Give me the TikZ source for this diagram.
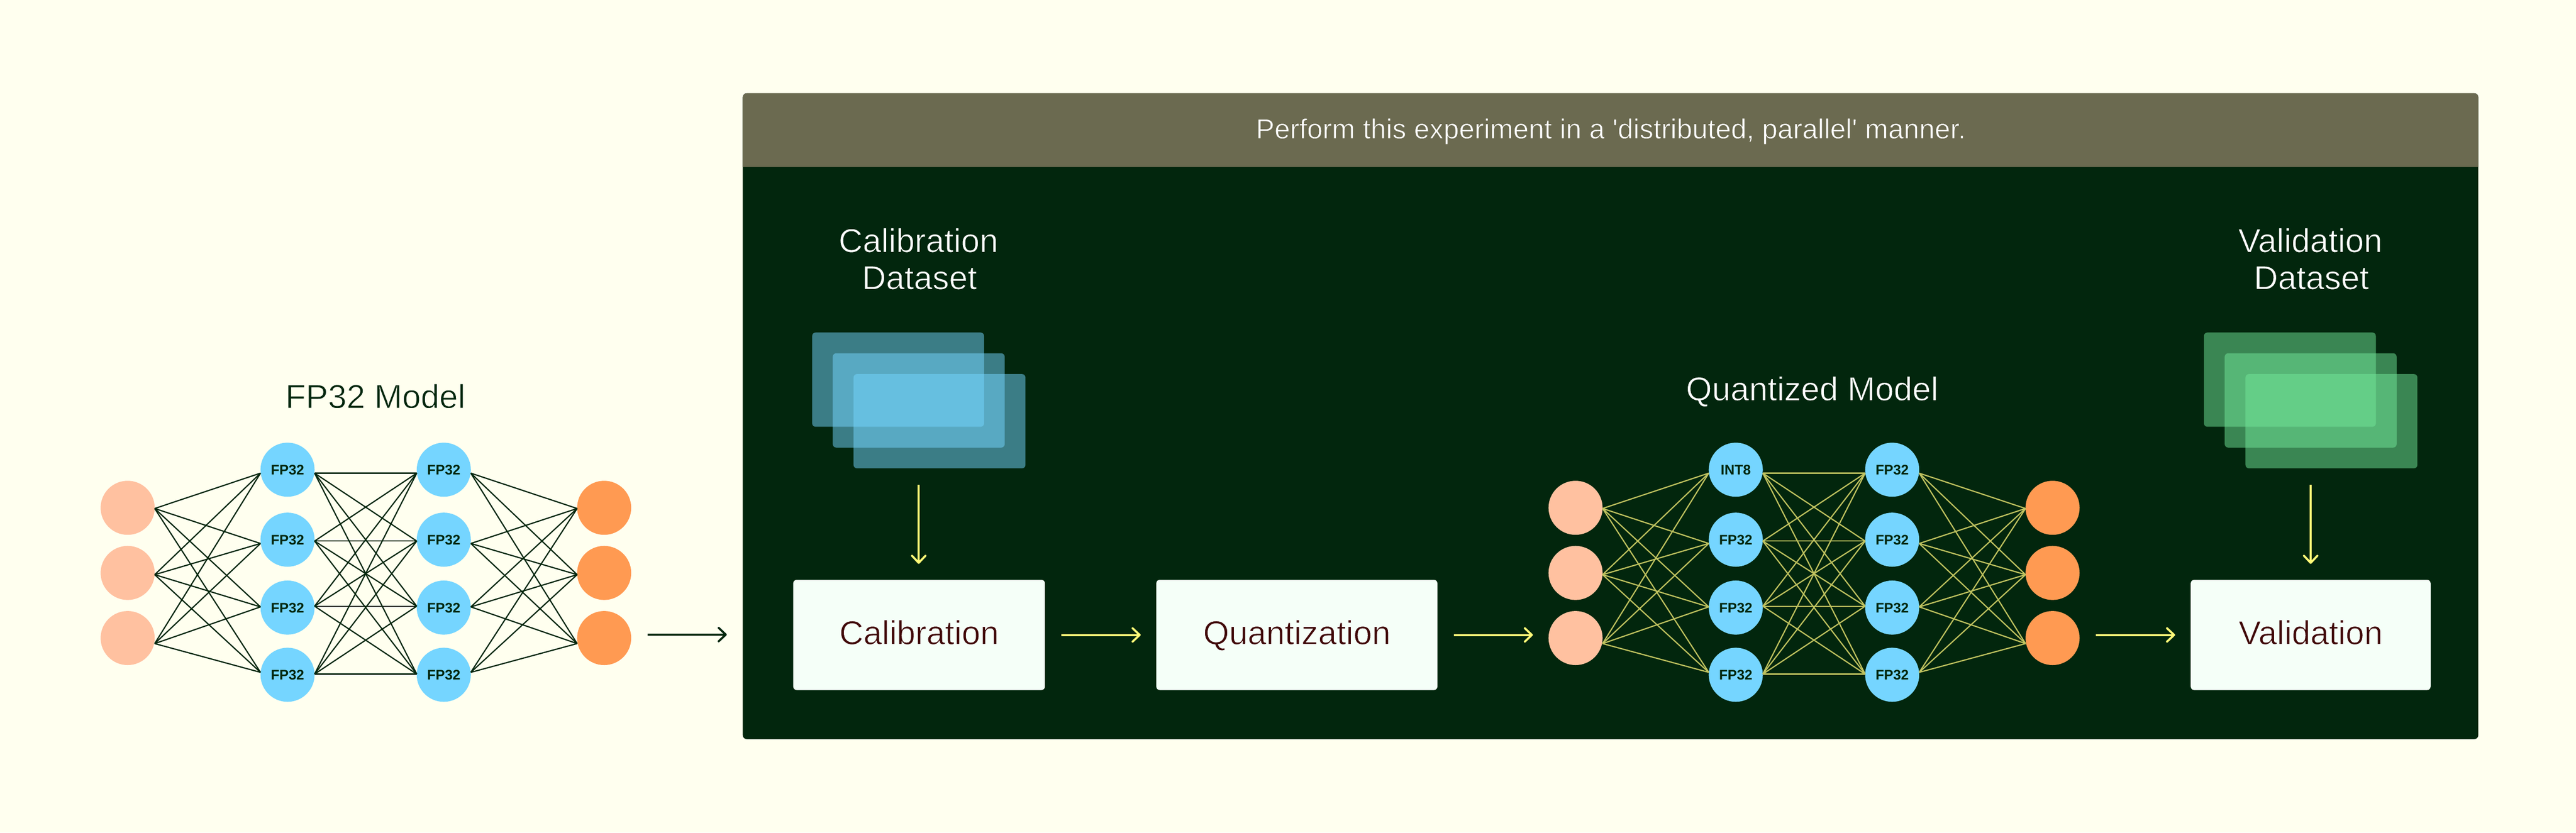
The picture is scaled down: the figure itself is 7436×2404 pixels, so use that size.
\documentclass[tikz,border=0pt]{standalone}
\usepackage{fontspec}
\setmainfont{Liberation Sans}[Ligatures=NoCommon]
\newfontfamily\boldlab{Liberation Sans Bold}
\usetikzlibrary{arrows.meta,calc}
\definecolor{bgc}{HTML}{FFFFEF}
\definecolor{panelc}{HTML}{02260D}
\definecolor{headc}{HTML}{6B6A50}
\definecolor{bluec}{HTML}{75D5FF}
\definecolor{peachc}{HTML}{FFC1A0}
\definecolor{orangec}{HTML}{FF9A52}
\definecolor{boxc}{HTML}{F5FFF8}
\definecolor{maroonc}{HTML}{400808}
\definecolor{yelc}{HTML}{FFFA78}
\definecolor{netyc}{HTML}{BFC25F}
\definecolor{greenc}{HTML}{73E699}
\newcommand{\lfont}{\fontsize{27.4}{30.7}\selectfont}
% real text, with its strokes thinned by an outline in the colour behind it
\newcommand{\lighttext}[2]{\special{pdf:code 2 Tr 0.4 w #1 RG}#2\special{pdf:code 0 Tr}}
\newcommand{\onpanel}[1]{\lighttext{0.008 0.149 0.051}{#1}}
\newcommand{\onbg}[1]{\lighttext{1 1 0.937}{#1}}
\newcommand{\onbox}[1]{\lighttext{0.961 1 0.973}{#1}}
\newcommand{\onhead}[1]{\lighttext{0.42 0.416 0.314}{#1}}
\tikzset{
  x=0.01cm,y=-0.01cm,
  neuron/.style={circle,minimum size=1.56cm,inner sep=0pt,outer sep=0pt,text=panelc,font=\boldlab\fontsize{11.4}{12}\selectfont,text height=0.30cm,text depth=0cm},
  nin/.style={neuron,fill=peachc},
  nhid/.style={neuron,fill=bluec},
  nout/.style={neuron,fill=orangec},
  netd/.style={draw=panelc,line width=1pt},
  nety/.style={draw=netyc,line width=1pt},
  arr/.style={line width=1.7pt,-{Straight Barb[length=5.8pt,width=11pt,round]}},
  arrd/.style={arr,draw=panelc},
  arry/.style={arr,draw=yelc},
  stackb/.style={rectangle,rounded corners=0.1cm,inner sep=0pt,outer sep=0pt,minimum width=4.96cm,minimum height=2.72cm,fill=bluec,fill opacity=0.5},
  stackg/.style={stackb,fill=greenc},
  box/.style={rectangle,rounded corners=0.1cm,inner sep=0pt,outer sep=0pt,minimum height=3.18cm,fill=boxc,text=maroonc,font=\lfont,text height=0.72cm,text depth=0.18cm},
  title/.style={inner sep=0pt,font=\lfont,align=center,anchor=base},
}
\begin{document}
\begin{tikzpicture}
\useasboundingbox (0,0) rectangle (7436,2404);
\fill[bgc] (0,0) rectangle (7436,2404);
% panel
\fill[panelc,rounded corners=0.12cm] (2144,269) rectangle (7154,2134);
\fill[headc] (2144,482) [rounded corners=0.12cm] -- (2144,269) -- (7154,269) [sharp corners] -- (7154,482) -- cycle;
\coordinate (pleft) at (2144,1832);
\node[inner sep=0pt,anchor=base,text=white,font=\fontsize{22.9}{25}\selectfont] (htext) at (4650,400) {\onhead{Perform this experiment in a \textquotesingle distributed, parallel\textquotesingle{} manner.}};
% titles
\node[title,text=panelc] (t1) at (1083.5,1178) {\onbg{FP32 Model}};
\node[title,text=white] (t2) at (5231,1156) {\onpanel{Quantized Model}};
\node[title,text=white] (t3a) at (2651,728) {\onpanel{Calibration}};
\node[title,text=white] (t3b) at (2654,835) {\onpanel{Dataset}};
\node[title,text=white] (t4a) at (6669,728) {\onpanel{Validation}};
\node[title,text=white] (t4b) at (6672,835) {\onpanel{Dataset}};
% stacks
\node[stackb] (c1) at (2592.5,1096) {};
\node[stackb] (c2) at (2652,1156) {};
\node[stackb] (c3) at (2712,1216) {};
\node[stackg] (v1) at (6610,1096) {};
\node[stackg] (v2) at (6670,1156) {};
\node[stackg] (v3) at (6730,1216) {};
% boxes
\node[box,minimum width=7.26cm] (calib) at (2653,1833) {\onbox{Calibration}};
\node[box,minimum width=8.11cm] (quant) at (3743.5,1833) {\onbox{Quantization}};
\node[box,minimum width=6.92cm] (valid) at (6670,1833) {\onbox{Validation}};
% network nodes
\foreach \n/\y in {1/1466,2/1654,3/1842}{
  \node[nin] (ai\n) at (368.5,\y) {};
  \node[nout] (ao\n) at (1744,\y) {};
  \node[nin] (bi\n) at (4548,\y) {};
  \node[nout] (bo\n) at (5925,\y) {};
}
\foreach \n/\y in {1/1356,2/1558,3/1754,4/1948}{
  \node[nhid] (ah\n) at (830,\y) {FP32};
  \node[nhid] (ak\n) at (1281,\y) {FP32};
  \node[nhid] (bk\n) at (5462,\y) {FP32};
}
\node[nhid] (bh1) at (5010.5,1356) {INT8};
\node[nhid] (bh2) at (5010.5,1558) {FP32};
\node[nhid] (bh3) at (5010.5,1754) {FP32};
\node[nhid] (bh4) at (5010.5,1948) {FP32};
% connectors
\foreach \p/\st in {a/netd,b/nety}{
  \foreach \i/\iy in {1/2,2/5,3/16}{
    \foreach \h/\hy in {1/10,2/11,3/-2,4/-7}{
      \draw[\st] ([yshift=-0.01cm*\iy]\p i\i.east) -- ([yshift=-0.01cm*\hy]\p h\h.west);
      \draw[\st] ([yshift=-0.01cm*\hy]\p k\h.east) -- ([yshift=-0.01cm*\iy]\p o\i.west);
    }
  }
  \foreach \s/\sy in {1/10,2/4,3/-4,4/-2}{
    \foreach \h/\hy in {1/10,2/4,3/-4,4/-2}{
      \draw[\st] ([yshift=-0.01cm*\sy]\p h\s.east) -- ([yshift=-0.01cm*\hy]\p k\h.west);
    }
  }
}
% arrows
\draw[arrd,shorten <=0.48cm,shorten >=0.46cm] (ao3.east |- pleft) -- (pleft);
\draw[arry,shorten <=0.48cm,shorten >=0.45cm] (calib.east) -- (quant.west);
\draw[arry,shorten <=0.48cm,shorten >=0.45cm] (quant.east) -- (bi3.west |- quant.east);
\draw[arry,shorten <=0.47cm,shorten >=0.45cm] (bo3.east |- valid.west) -- (valid.west);
\draw[arry,shorten <=0.48cm,shorten >=0.46cm] (c2.south |- c3.south) -- (c2.south |- calib.north);
\draw[arry,shorten <=0.48cm,shorten >=0.46cm] (v2.south |- v3.south) -- (v2.south |- valid.north);
\end{tikzpicture}
\end{document}
